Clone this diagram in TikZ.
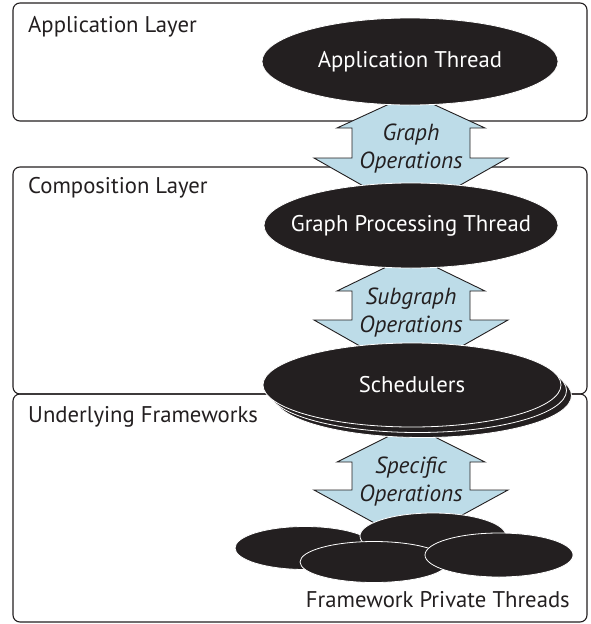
\documentclass[tikz,border=0pt]{standalone}
\usepackage{fontspec}
\setmainfont{PT Sans}
\usetikzlibrary{shapes.geometric}
\definecolor{ink}{RGB}{35,31,32}
\definecolor{opblue}{RGB}{189,220,232}
\newcommand\drawOpArrow[5]{% center x, apex, upper base, lower base, tip
  \draw[oparrow] (#1,#2) -- (#1+74,#3) -- (#1+59,#3) -- (#1+59,#4) -- (#1+97,#4)
    -- (#1,#5) -- (#1-97,#4) -- (#1-59,#4) -- (#1-59,#3) -- (#1-74,#3) -- cycle;}
\begin{document}
\begin{tikzpicture}[x=1pt,y=-1pt,
  layer/.style={draw=ink, line width=1.1pt, rounded corners=7pt},
  thread/.style={ellipse, fill=ink, draw=white, line width=0.8pt, inner sep=0pt},
  threadtext/.style={text=white, inner sep=0pt, font=\fontsize{22.7}{26}\selectfont},
  oparrow/.style={fill=opblue, draw=ink, line width=0.9pt, line join=miter},
  oplabel/.style={align=center, text=ink, inner sep=0pt, font=\fontsize{23.3}{28}\selectfont\itshape},
  layerlabel/.style={text=ink, inner sep=0pt, font=\fontsize{22.7}{26}\selectfont}]
\useasboundingbox (0,0) rectangle (590,624);
% layers
\draw[layer] (13,3) rectangle (587,121);
\draw[layer] (13,167) rectangle (587,394);
\draw[layer] (13,394) rectangle (587,622);
\node[layerlabel, anchor=west] (lapp) at (28,27) {Application Layer};
\node[layerlabel, anchor=west] (lcomp) at (28,188) {Composition Layer};
\node[layerlabel, anchor=west] (lund) at (28,417) {Underlying Frameworks};
% operation arrows
\drawOpArrow{411}{94}{128}{158}{213}
\drawOpArrow{411}{255}{291}{320}{375}
\drawOpArrow{411}{425}{462}{490}{543}
\node[oplabel] (ops1) at (411,149) {Graph\\Operations};
\node[oplabel] (ops2) at (411,312.5) {Subgraph\\Operations};
\node[oplabel] (ops3) at (411,481.5) {Specific\\Operations};
% threads
\node[thread, minimum width=296pt, minimum height=87pt] (app) at (410,61.5) {};
\node[threadtext] (tapp) at (app) {Application Thread};
\node[thread, minimum width=294pt, minimum height=85pt] (gpt) at (411,225.5) {};
\node[threadtext] (tgpt) at (gpt) {Graph Processing Thread};
\node[thread, minimum width=298pt, minimum height=84pt] (sch3) at (422.5,395.5) {};
\node[thread, minimum width=298pt, minimum height=84pt] (sch2) at (417.5,390.5) {};
\node[thread, minimum width=298pt, minimum height=84pt] (sch1) at (412,385) {};
\node[threadtext] (tsch) at (sch1) {Schedulers};
\node[thread, minimum width=140pt, minimum height=43pt] (fw1) at (305,548) {};
\node[thread, minimum width=146pt, minimum height=46pt] (fw3) at (433,536) {};
\node[thread, minimum width=148pt, minimum height=41pt] (fw2) at (374,562) {};
\node[thread, minimum width=148pt, minimum height=44pt] (fw4) at (499,555) {};
\node[layerlabel, anchor=east] (lfw) at (570,600) {Framework Private Threads};
\end{tikzpicture}
\end{document}
